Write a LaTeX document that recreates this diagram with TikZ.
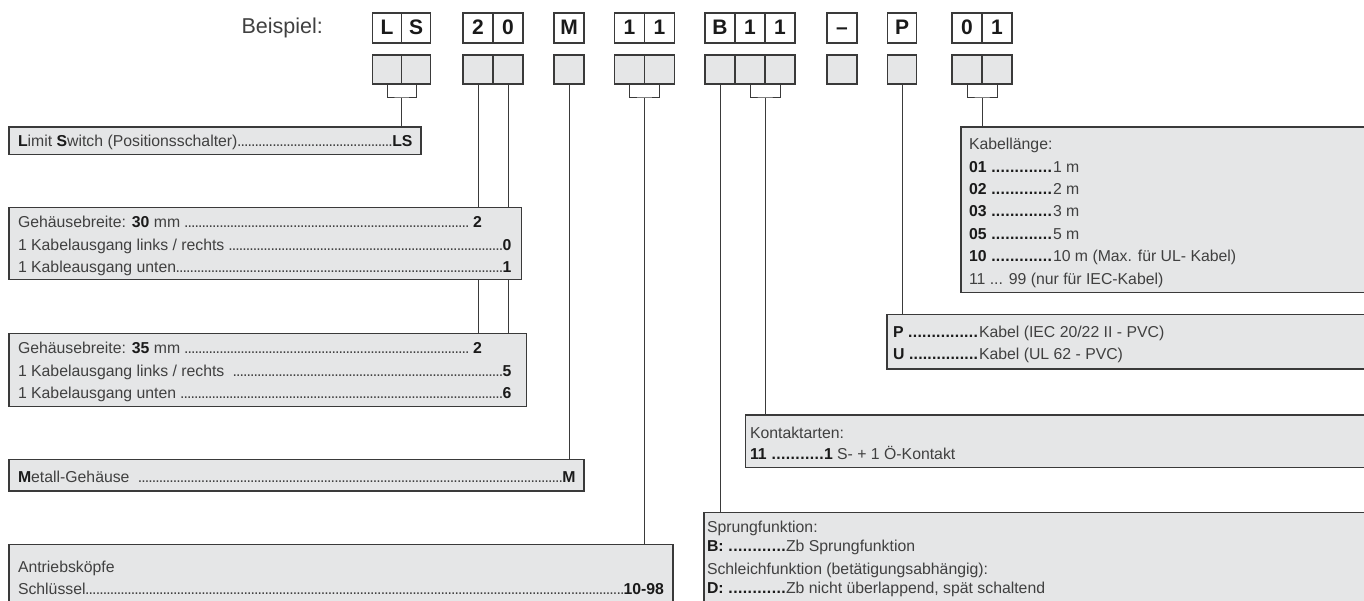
\documentclass[tikz,border=0pt]{standalone}
\usepackage{fontspec}
\setmainfont{Liberation Sans}
\definecolor{boxgray}{HTML}{E5E6E7}
\definecolor{linegray}{HTML}{3A3A3A}
\definecolor{txt}{HTML}{404040}
\definecolor{txtb}{HTML}{1A1A1A}
\newcommand\lightdots{\xleaders\hbox to 3.5pt{\hss.\hss}\hfill}
\newcommand\bolddots{{\color{txtb}\xleaders\hbox to 4.6pt{\hss\bfseries .}\hfill}}
\newcommand\vb[1]{{\color{txtb}\bfseries #1}}
\begin{document}
\begin{tikzpicture}[x=1pt,y=-1pt,
  wcell/.style={draw=linegray, line width=1.1pt, fill=white, minimum width=30pt, minimum height=30pt, inner sep=0pt, outer sep=0pt, anchor=north west, font=\fontsize{21}{21}\selectfont\bfseries, text=txtb, text height=15pt, text depth=2.5pt},
  gcell/.style={draw=linegray, line width=1.1pt, fill=boxgray, minimum width=30pt, minimum height=29pt, inner sep=0pt, outer sep=0pt, anchor=north west},
  descbox/.style={draw=linegray, line width=1.2pt, fill=boxgray, inner sep=0pt, outer sep=0pt, anchor=north west},
  row/.style={anchor=base west, inner sep=0pt, outer sep=0pt, font=\fontsize{15.8}{18}\selectfont, text=txt},
  conn/.style={draw=linegray, line width=1pt},
]
\useasboundingbox (0,0) rectangle (1364,601);
\clip (0,0) rectangle (1364,601);

% Beispiel
\node[anchor=base east, font=\fontsize{21.5}{22}\selectfont, text=txt, inner sep=0pt] (beispiel) at (323,34) {Beispiel:};

% white cells
\node[wcell, minimum width=29pt] (wL) at (372.5,13) {L};
\node[wcell, minimum width=29pt] (wS) at (401.5,13) {S};
\node[wcell] (w2) at (463,13) {2};
\node[wcell] (w0) at (493,13) {0};
\node[wcell] (wM) at (554,13) {M};
\node[wcell] (w11a) at (614.5,13) {1};
\node[wcell] (w11b) at (644.5,13) {1};
\node[wcell] (wB) at (705,13) {B};
\node[wcell] (wB1) at (735,13) {1};
\node[wcell] (wB2) at (765,13) {1};
\node[wcell] (wdash) at (827,13) {--};
\node[wcell, minimum width=29pt] (wP) at (887.5,13) {P};
\node[wcell] (w01a) at (952,13) {0};
\node[wcell] (w01b) at (982,13) {1};

% gray cells
\node[gcell, minimum width=29pt] (gL) at (372.5,55) {};
\node[gcell, minimum width=29pt] (gS) at (401.5,55) {};
\node[gcell] (g2) at (463,55) {};
\node[gcell] (g0) at (493,55) {};
\node[gcell] (gM) at (554,55) {};
\node[gcell] (g11a) at (614.5,55) {};
\node[gcell] (g11b) at (644.5,55) {};
\node[gcell] (gB) at (705,55) {};
\node[gcell] (gB1) at (735,55) {};
\node[gcell] (gB2) at (765,55) {};
\node[gcell] (gdash) at (827,55) {};
\node[gcell, minimum width=29pt] (gP) at (887.5,55) {};
\node[gcell] (g01a) at (952,55) {};
\node[gcell] (g01b) at (982,55) {};

% description boxes
\node[descbox, minimum width=412pt, minimum height=27.5pt] (dLS) at (9,127) {};
\node[descbox, minimum width=512.7pt, minimum height=72pt] (dG30) at (9,207.5) {};
\node[descbox, minimum width=517.7pt, minimum height=73.4pt] (dG35) at (9,333.3) {};
\node[descbox, minimum width=575pt, minimum height=31.7pt] (dM) at (9,459.3) {};
\node[descbox, minimum width=664pt, minimum height=80pt] (dA) at (9,544.3) {};
\node[descbox, minimum width=420pt, minimum height=165.7pt] (dK) at (961,127) {};
\node[descbox, minimum width=500pt, minimum height=54.7pt] (dP) at (887,314.3) {};
\node[descbox, minimum width=640pt, minimum height=52.3pt] (dKon) at (745.7,415) {};
\node[descbox, minimum width=680pt, minimum height=100pt] (dS) at (704,512.7) {};

% connectors
\coordinate (bLS) at (401.5,98);
\draw[conn] (gL.south) |- (bLS) -| (gS.south);
\draw[conn] (bLS) -- (bLS |- dLS.north);
\draw[conn] (g2.south) -- (g2.south |- dG30.north);
\draw[conn] (g0.south) -- (g0.south |- dG30.north);
\draw[conn] (g2.south |- dG30.south) -- (g2.south |- dG35.north);
\draw[conn] (g0.south |- dG30.south) -- (g0.south |- dG35.north);
\draw[conn] (gM.south) -- (gM.south |- dM.north);
\coordinate (b11) at (644.5,98);
\draw[conn] (g11a.south) |- (b11) -| (g11b.south);
\draw[conn] (b11) -- (b11 |- dA.north);
\draw[conn] (gB.south) -- (gB.south |- dS.north);
\coordinate (bB11) at (765,98);
\draw[conn] (gB1.south) |- (bB11) -| (gB2.south);
\draw[conn] (bB11) -- (bB11 |- dKon.north);
\draw[conn] (gP.south) -- (gP.south |- dP.north);
\coordinate (b01) at (982,98);
\draw[conn] (g01a.south) |- (b01) -| (g01b.south);
\draw[conn] (b01) -- (b01 |- dK.north);

% texts left
\node[row] (tLS) at (18,146.5) {\hbox to 394.5pt{\vb{L}imit \vb{S}witch (Positionsschalter)\lightdots\vb{LS}}};
\node[row] (tG30a) at (18,227.2) {\hbox to 464pt{Gehäusebreite: \vb{30} mm \lightdots\ \vb{2}}};
\node[row] (tG30b) at (18,250.5) {\hbox to 493.5pt{1 Kabelausgang links / rechts \lightdots\vb{0}}};
\node[row] (tG30c) at (18,272.8) {\hbox to 493.5pt{1 Kableausgang unten\lightdots\vb{1}}};
\node[row] (tG35a) at (18,353.8) {\hbox to 464pt{Gehäusebreite: \vb{35} mm \lightdots\ \vb{2}}};
\node[row] (tG35b) at (18,376.2) {\hbox to 493.5pt{1 Kabelausgang links / rechts \ \lightdots\vb{5}}};
\node[row] (tG35c) at (18,398.8) {\hbox to 493.5pt{1 Kabelausgang unten \lightdots\vb{6}}};
\node[row] (tM) at (18,482.5) {\hbox to 557.5pt{\vb{M}etall-Gehäuse \ \lightdots\vb{M}}};
\node[row] (tAa) at (18,572) {Antriebsköpfe};
\node[row] (tAb) at (18,594.5) {\hbox to 646pt{Schlüssel\lightdots\vb{10-98}}};

% texts right
\node[row] (tK0) at (969,150) {Kabellänge:};
\node[row] (tK1) at (969,172.5) {\hbox to 83pt{\vb{01}\ \bolddots}\hskip1pt 1 m};
\node[row] (tK2) at (969,194.5) {\hbox to 83pt{\vb{02}\ \bolddots}\hskip1pt 2 m};
\node[row] (tK3) at (969,217) {\hbox to 83pt{\vb{03}\ \bolddots}\hskip1pt 3 m};
\node[row] (tK5) at (969,239.5) {\hbox to 83pt{\vb{05}\ \bolddots}\hskip1pt 5 m};
\node[row] (tK10) at (969,262) {\hbox to 83pt{\vb{10}\ \bolddots}\hskip1pt 10 m (Max. für UL- Kabel)};
\node[row] (tK11) at (969,284.5) {11 ... 99 (nur für IEC-Kabel)};
\node[row] (tP) at (893,337.2) {\hbox to 85pt{\vb{P}\ \bolddots}\hskip1pt Kabel (IEC 20/22 II - PVC)};
\node[row] (tU) at (893,359.5) {\hbox to 85pt{\vb{U}\ \bolddots}\hskip1pt Kabel (UL 62 - PVC)};
\node[row] (tKon0) at (750,438.2) {Kontaktarten:};
\node[row] (tKon1) at (750,459.5) {\hbox to 74pt{\vb{11}\ \bolddots}\vb{1} S- + 1 Ö-Kontakt};
\node[row] (tS0) at (707,532) {Sprungfunktion:};
\node[row] (tS1) at (707,551.5) {\hbox to 79pt{\vb{B:}\ \bolddots}Zb Sprungfunktion};
\node[row] (tS2) at (707,574.5) {Schleichfunktion (betätigungsabhängig):};
\node[row] (tS3) at (707,593.5) {\hbox to 79pt{\vb{D:}\ \bolddots}Zb nicht überlappend, spät schaltend};
\end{tikzpicture}
\end{document}
